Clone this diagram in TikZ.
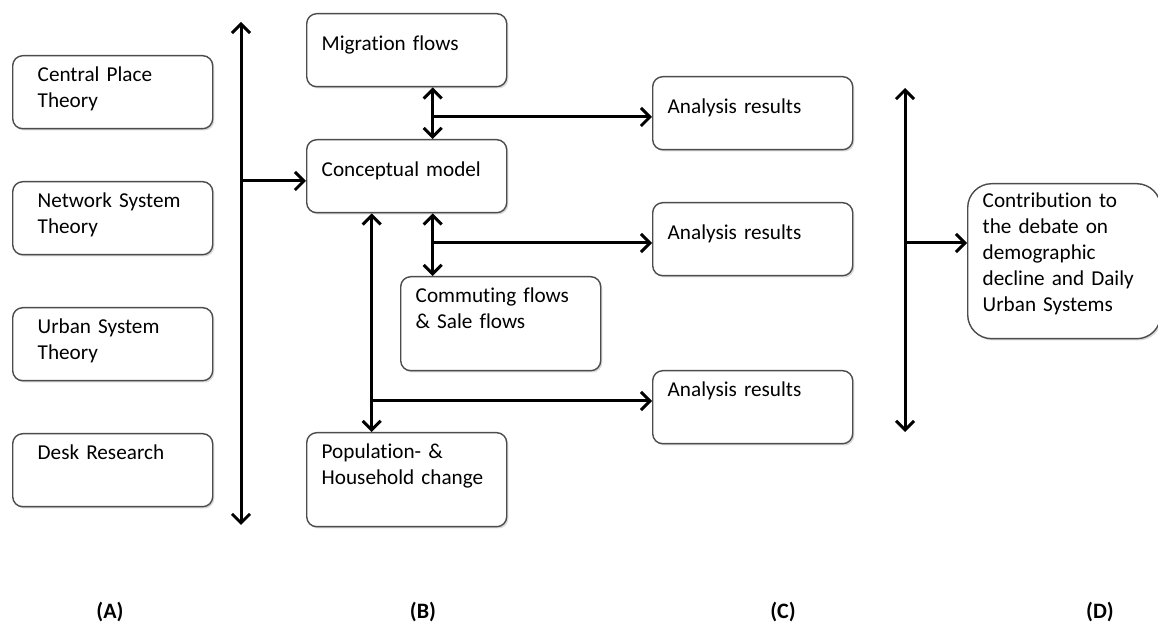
\documentclass[tikz,border=0pt]{standalone}
\usepackage{fontspec}
\setmainfont{Carlito}[Ligatures=NoCommon,WordSpace={0.85,0.5,0.3}]
\usetikzlibrary{arrows.meta,shadows}
\tikzset{
  flowbox/.style={draw=black!70, line width=0.7pt, rounded corners=5pt, fill=white,
    drop shadow={shadow xshift=0.8pt, shadow yshift=-0.9pt, opacity=0.3},
    anchor=north west, align=left, minimum width=100pt, text width=85pt,
    inner xsep=7.5pt, inner ysep=4pt, text height=8.9pt, text depth=19.6pt,
    font=\fontsize{10.6}{13}\selectfont},
  theorybox/.style={inner xsep=12.5pt, text width=75pt},
  lowtext/.style={text height=14.4pt, text depth=14.1pt},
  tallbox/.style={text depth=30.1pt},
  bar/.style={line width=1.5pt},
  colname/.style={font=\bfseries\fontsize{11}{13}\selectfont}
}
\begin{document}
\begin{tikzpicture}[x=0.5pt,y=-0.5pt,>={Straight Barb[length=4.5pt,width=9pt]}]
\useasboundingbox (0,0) rectangle (1158,625);
% (A) theories
\node[flowbox,theorybox] (cpt) at (12,55) {Central Place\\Theory};
\node[flowbox,theorybox] (nst) at (12,181) {Network System\\Theory};
\node[flowbox,theorybox] (ust) at (12,307) {Urban System\\Theory};
\node[flowbox,theorybox] (desk) at (12,433) {Desk Research};
% (B) model and flows
\node[flowbox,lowtext] (mig) at (306,13) {Migration flows};
\node[flowbox,lowtext] (concept) at (306,139) {Conceptual model};
\node[flowbox,tallbox] (commute) at (400,276) {Commuting flows\\\& Sale flows};
\node[flowbox,tallbox] (pop) at (306,432) {Population- \&\\Household change};
% (C) results
\node[flowbox,lowtext] (res1) at (652,76) {Analysis results};
\node[flowbox,lowtext] (res2) at (652,202) {Analysis results};
\node[flowbox] (res3) at (652,370) {Analysis results};
% (D) contribution
\node[flowbox,rounded corners=12pt,minimum width=96.5pt,text width=81.5pt,
  text height=7.9pt,text depth=61.6pt] (contrib) at (967,183)
  {Contribution to\\the debate on\\demographic\\decline and Daily\\Urban Systems};
% bars
\coordinate (atop) at (241,22);
\coordinate (abot) at (241,525);
\coordinate (ajoin) at (241,181);
\draw[bar,<->] (atop) -- (abot);
\draw[bar,->] (ajoin) -- (ajoin -| concept.west);
\coordinate (dtop) at (905,88);
\coordinate (dbot) at (905,432);
\coordinate (djoin) at (905,243);
\draw[bar,<->] (dtop) -- (dbot);
\draw[bar,->] (djoin) -- (djoin -| contrib.west);
% links from the model
\draw[bar,<->] ([xshift=13pt]mig.south) -- ([xshift=13pt]concept.north);
\coordinate (b1) at (432,117);
\draw[bar,->] (b1) -- (b1 -| res1.west);
\draw[bar,<->] ([xshift=13pt]concept.south) -- ([xshift=13pt]concept.south |- commute.north);
\coordinate (b2) at (432,243);
\draw[bar,->] (b2) -- (b2 -| res2.west);
\draw[bar,<->] ([xshift=-17.5pt]concept.south) -- ([xshift=-17.5pt]concept.south |- pop.north);
\coordinate (b3) at (371,401);
\draw[bar,->] (b3) -- (b3 -| res3.west);
% column names
\node[colname] (labA) at (110,612) {(A)};
\node[colname] (labB) at (423,612) {(B)};
\node[colname] (labC) at (783,612) {(C)};
\node[colname] (labD) at (1100,612) {(D)};
\end{tikzpicture}
\end{document}
